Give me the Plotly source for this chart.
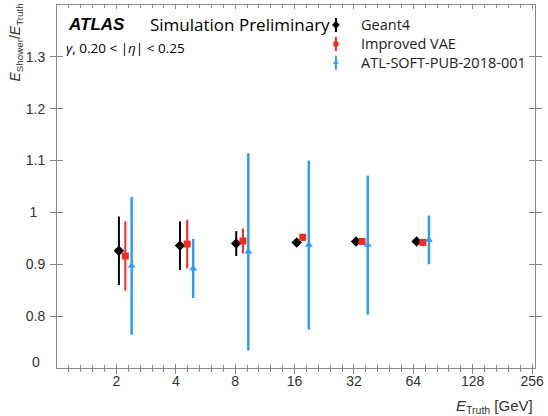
import plotly.graph_objects as go

# ---- data ----
geant4_x = [2.06, 4.2, 8.1, 16.4, 32.8, 66.5]
geant4_y = [0.926, 0.936, 0.940, 0.942, 0.944, 0.944]
geant4_err = [0.066, 0.047, 0.024, 0.006, 0.005, 0.005]

vae_x = [2.22, 4.57, 8.76, 17.6, 35.2, 71.6]
vae_y = [0.916, 0.939, 0.945, 0.952, 0.944, 0.942]
vae_err = [0.067, 0.047, 0.024, 0.007, 0.006, 0.005]

old_x = [2.39, 4.9, 9.33, 18.9, 37.6, 76.8]
old_y = [0.897, 0.892, 0.924, 0.937, 0.937, 0.947]
old_err = [0.133, 0.057, 0.19, 0.163, 0.134, 0.047]

series_names = ["Geant4", "Improved VAE", "ATL-SOFT-PUB-2018-001"]

x_ticks = [2, 4, 8, 16, 32, 64, 128, 256]
x_ticklabels = ["2", "4", "8", "16", "32", "64", "128", "256"]
y_ticks = [0.8, 0.9, 1.0, 1.1, 1.2, 1.3]
y_ticklabels = ["0.8", "0.9", "1\u2008\u2008", "1.1", "1.2", "1.3"]

BLACK = "#000000"
RED = "#f52a1c"
BLUE = "#2a9df4"
colors = [BLACK, RED, BLUE]
symbols = ["diamond", "square", "triangle-up"]
sizes = [8, 7, 7]
thick = [2, 2, 2.5]

minor_vals = [2 ** (k / 5) for k in range(0, 41) if k % 5 != 0]

fig = go.Figure()

for (x, y, err), name, c, s, sz, th in zip(
        [(geant4_x, geant4_y, geant4_err), (vae_x, vae_y, vae_err), (old_x, old_y, old_err)],
        series_names, colors, symbols, sizes, thick):
    fig.add_trace(go.Scatter(
        x=x, y=y, mode="markers", name=name, showlegend=False,
        marker=dict(color=c, symbol=s, size=sz, line=dict(width=0)),
        error_y=dict(type="data", array=err, visible=True, color=c,
                     thickness=th, width=0),
    ))

# legend symbols (small inset axes, one row per series)
for i, (name, c, s, sz) in enumerate(zip(series_names, colors, symbols, sizes)):
    fig.add_trace(go.Scatter(
        x=[0], y=[i], xaxis="x3", yaxis="y3", mode="markers", showlegend=False,
        marker=dict(color=c, symbol=s, size=sz - 2, line=dict(width=0)),
        error_y=dict(type="data", array=[0.37], visible=True, color=c,
                     thickness=2, width=0),
        hoverinfo="skip",
    ))

# helper trace for the overlay axis (outside half of the crossing ticks)
fig.add_trace(go.Scatter(x=[None], y=[None], xaxis="x2", yaxis="y",
                         showlegend=False, hoverinfo="skip"))

axis_color = "#888888"
tick_font = dict(family="Liberation Sans, Arial, sans-serif", size=14, color="#333333")
xrange = [0, 2.423]

def px_x(p):
    return (p - 57) / 485

def px_y(p):
    return (368 - p) / 364

fig.update_layout(
    width=548, height=416,
    margin=dict(l=57, r=6, t=4, b=48),
    paper_bgcolor="white", plot_bgcolor="white",
    showlegend=False,
    xaxis=dict(
        type="log", range=xrange,
        tickmode="array", tickvals=x_ticks, ticktext=x_ticklabels,
        ticks="inside", ticklen=4, tickcolor=axis_color, tickwidth=1,
        showline=True, linecolor=axis_color, linewidth=1, mirror="allticks",
        showgrid=False, zeroline=False, tickfont=tick_font,
        ticklabeloverflow="allow",
        minor=dict(tickmode="array", tickvals=minor_vals, ticks="inside",
                   ticklen=3, tickcolor=axis_color, showgrid=False),
    ),
    xaxis2=dict(
        type="log", range=xrange, overlaying="x", anchor="y", side="bottom",
        tickmode="array", tickvals=x_ticks, showticklabels=False,
        ticks="outside", ticklen=5, tickcolor=axis_color, tickwidth=1,
        showline=False, showgrid=False, zeroline=False,
        minor=dict(tickmode="array", tickvals=minor_vals, ticks="outside",
                   ticklen=3, tickcolor=axis_color, showgrid=False),
    ),
    yaxis=dict(
        range=[0.7, 1.4],
        tickmode="array", tickvals=y_ticks, ticktext=y_ticklabels,
        ticks="inside", ticklen=6, tickcolor=axis_color,
        showline=True, linecolor=axis_color, linewidth=1, mirror="allticks",
        showgrid=False, zeroline=False, tickfont=tick_font,
        ticklabelstandoff=8,
    ),
    xaxis3=dict(domain=[px_x(330), px_x(350)], range=[-1, 1], anchor="y3",
                visible=False, fixedrange=True),
    yaxis3=dict(domain=[px_y(71.5), px_y(14.5)], range=[2.5, -0.5], anchor="x3",
                visible=False, fixedrange=True),
)

# legend texts
for i, name in enumerate(series_names):
    fig.add_annotation(xref="paper", yref="paper", x=px_x(363), y=px_y(24 + 19 * i),
                       text=name, showarrow=False, xanchor="left", yanchor="middle",
                       font=dict(family="Open Sans, sans-serif", size=14.5, color="#222222"))

# bottom "0" label of the axis (ROOT style)
fig.add_annotation(xref="paper", yref="y", x=px_x(36), y=0.712, text="0",
                   showarrow=False, xanchor="center", yanchor="middle",
                   font=tick_font)

# ATLAS label
fig.add_annotation(xref="paper", yref="paper", x=px_x(66), y=px_y(24),
                   text="<b><i>ATLAS</i></b>", showarrow=False,
                   xanchor="left", yanchor="middle",
                   font=dict(family="Liberation Sans, Arial, sans-serif", size=17, color="black"))
fig.add_annotation(xref="paper", yref="paper", x=px_x(149), y=px_y(24),
                   text="Simulation Preliminary", showarrow=False,
                   xanchor="left", yanchor="middle",
                   font=dict(family="Open Sans, sans-serif", size=17, color="black"))
fig.add_annotation(xref="paper", yref="paper", x=px_x(64), y=px_y(47),
                   text="<i>γ</i>, 0.20 < |<i>η</i>| < 0.25", showarrow=False,
                   xanchor="left", yanchor="middle",
                   font=dict(family="Open Sans, sans-serif", size=13.5, color="black"))

# axis titles
fig.add_annotation(xref="paper", yref="paper", x=px_x(15), y=px_y(1),
                   text="<i>E</i><sub>Shower</sub>/<i>E</i><sub>Truth</sub>",
                   textangle=-90, showarrow=False, xanchor="center", yanchor="top",
                   font=dict(family="Liberation Sans, Arial, sans-serif", size=14, color="#333333"))
fig.add_annotation(xref="paper", yref="paper", x=px_x(542), y=px_y(407),
                   text="<i>E</i><sub>Truth</sub> [GeV]", showarrow=False,
                   xanchor="right", yanchor="middle",
                   font=dict(family="Liberation Sans, Arial, sans-serif", size=15, color="#333333"))

fig.write_html("out.html",
               config={"displayModeBar": False},
               post_script="document.body.style.margin='0';document.body.style.padding='0';")
